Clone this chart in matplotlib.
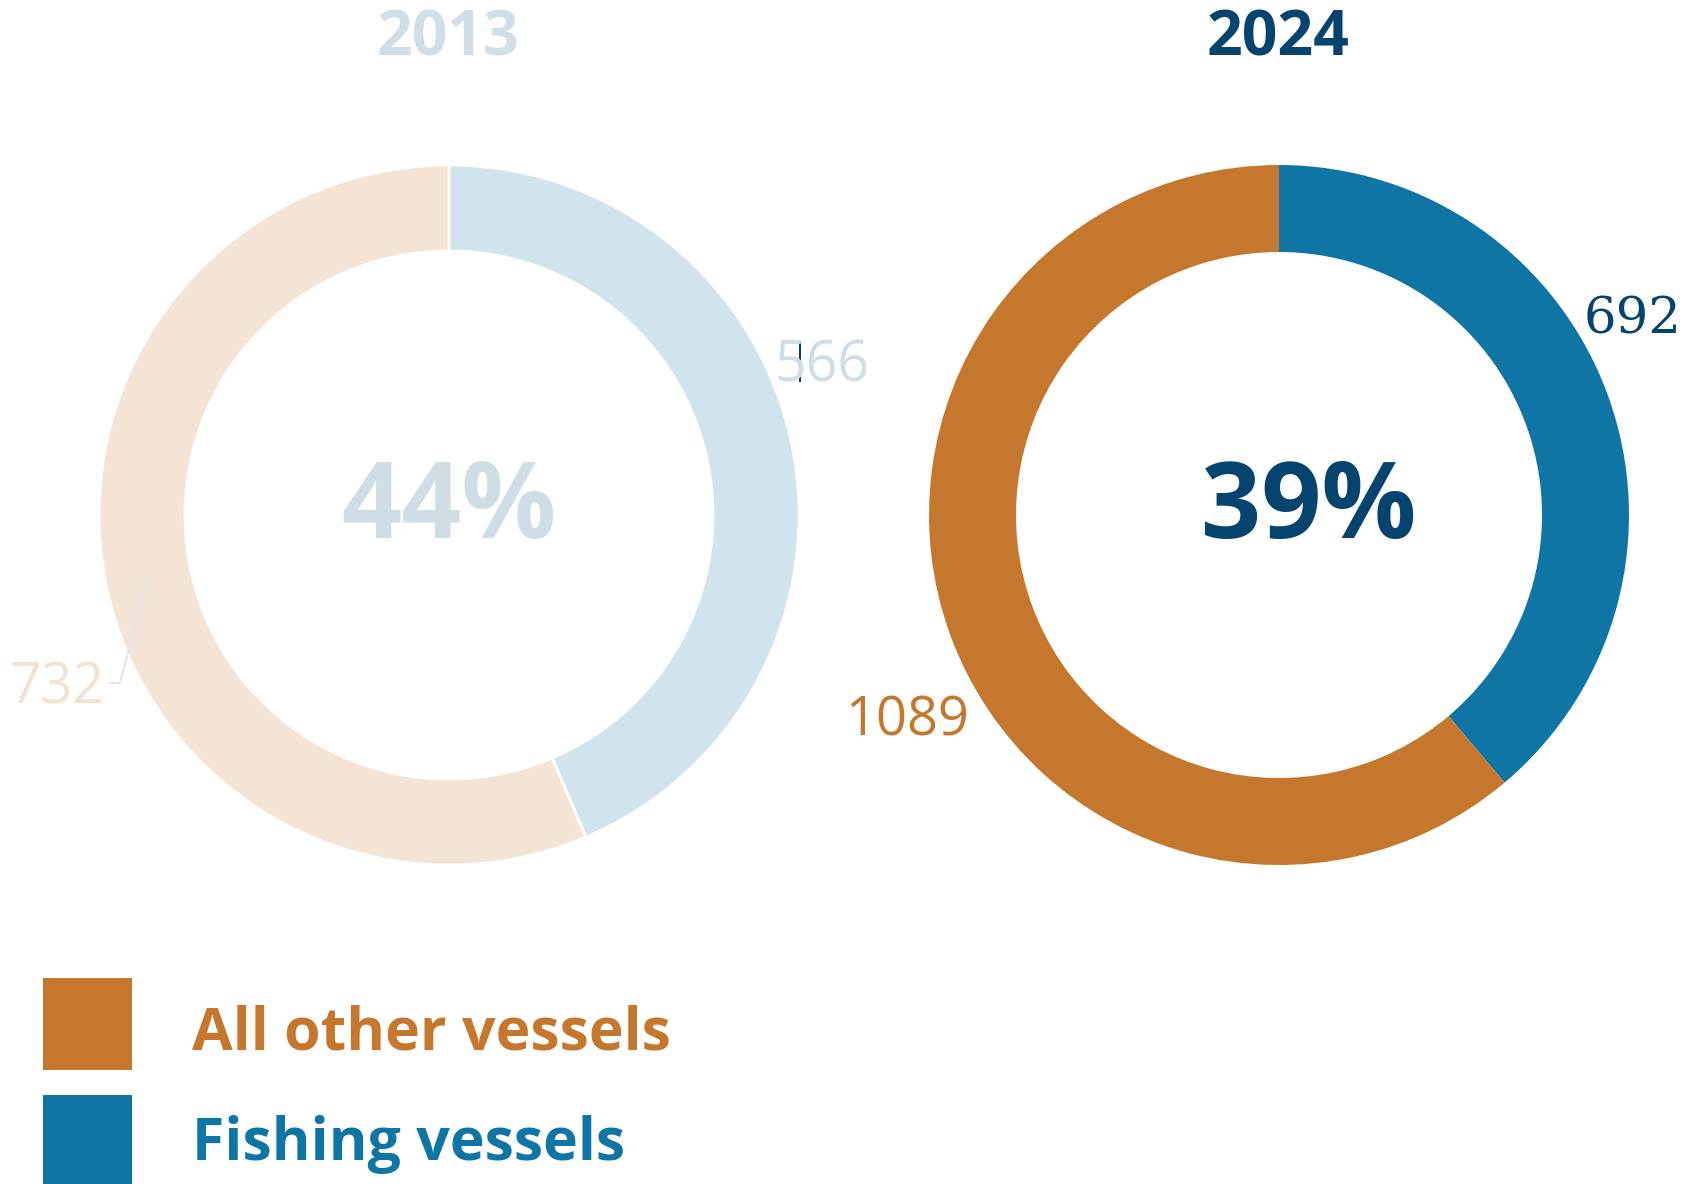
import matplotlib.pyplot as plt

# vessel counts per year
years = ["2013", "2024"]
fishing = [566, 692]
other = [732, 1089]
legend_labels = ["All other vessels", "Fishing vessels"]

ORANGE = "#C5782D"
BLUE = "#0F75A5"
NAVY = "#04446E"
PALE_BLUE = "#D1E3EC"
PALE_PEACH = "#F3E4D6"
PALE_TEXT = "#CFDDE5"
PEACH_TEXT = "#F2E2D2"

W, H = 1695, 1184
fig = plt.figure(figsize=(W / 100, H / 100), dpi=100)
ax = fig.add_axes([0, 0, 1, 1])

def py(y):
    # pixel rows run top-down, data y runs bottom-up
    return H - y

# 2013 donut, faded
ax.pie([fishing[0], other[0]], colors=[PALE_BLUE, PALE_PEACH], startangle=90,
       counterclock=False, center=(449, py(515)), radius=350,
       wedgeprops=dict(width=86, edgecolor="white", linewidth=2))
# 2024 donut
ax.pie([fishing[1], other[1]], colors=[BLUE, ORANGE], startangle=90,
       counterclock=False, center=(1279, py(515)), radius=350,
       wedgeprops=dict(width=87, edgecolor="none", linewidth=0))

ax.set_xlim(0, W)
ax.set_ylim(0, H)
ax.set_aspect("equal")
ax.axis("off")

share = [round(100 * f / (f + o)) for f, o in zip(fishing, other)]

# year titles
ax.text(448, py(56), years[0], color="#D0DEE5", fontsize=45, fontweight="bold",
        family="Open Sans", ha="center", va="baseline")
ax.text(1278, py(56), years[1], color=NAVY, fontsize=45, fontweight="bold",
        family="Open Sans", ha="center", va="baseline")

# share of fishing vessels in the middle
ax.text(449, py(538), f"{share[0]}%", color=PALE_TEXT, fontsize=76, fontweight="bold",
        family="Open Sans", ha="center", va="baseline")
ax.text(1309, py(538), f"{share[1]}%", color=NAVY, fontsize=76, fontweight="bold",
        family="Open Sans", ha="center", va="baseline")

# value labels
ax.text(822, py(382), str(fishing[0]), color=PALE_TEXT, fontsize=40,
        family="Open Sans", ha="center", va="baseline")
ax.text(57, py(703), str(other[0]), color=PEACH_TEXT, fontsize=40,
        family="Open Sans", ha="center", va="baseline")
ax.text(1633, py(333), str(fishing[1]), color=NAVY, fontsize=37,
        family="DejaVu Serif", ha="center", va="baseline")
ax.text(907, py(735), str(other[1]), color=ORANGE, fontsize=39,
        family="Open Sans", ha="center", va="baseline")

# leader for the 732 label and the small tick next to 566
ax.plot([110, 120, 148], [py(683), py(683), py(577)], color="#E6E6E6", lw=1.5)
ax.plot([800, 800], [py(343), py(381)], color=NAVY, lw=1.5)

# legend
for i, (lab, col) in enumerate(zip(legend_labels, [ORANGE, BLUE])):
    top = 978 + i * 117
    ax.add_patch(plt.Rectangle((43, py(top + 92)), 89, 92, color=col, lw=0))
    ax.text(192, py(1049 + i * 111), lab, color=col, fontsize=42.5, fontweight="bold",
            family="Open Sans", ha="left", va="baseline")

fig.savefig("out.png", dpi=100)
